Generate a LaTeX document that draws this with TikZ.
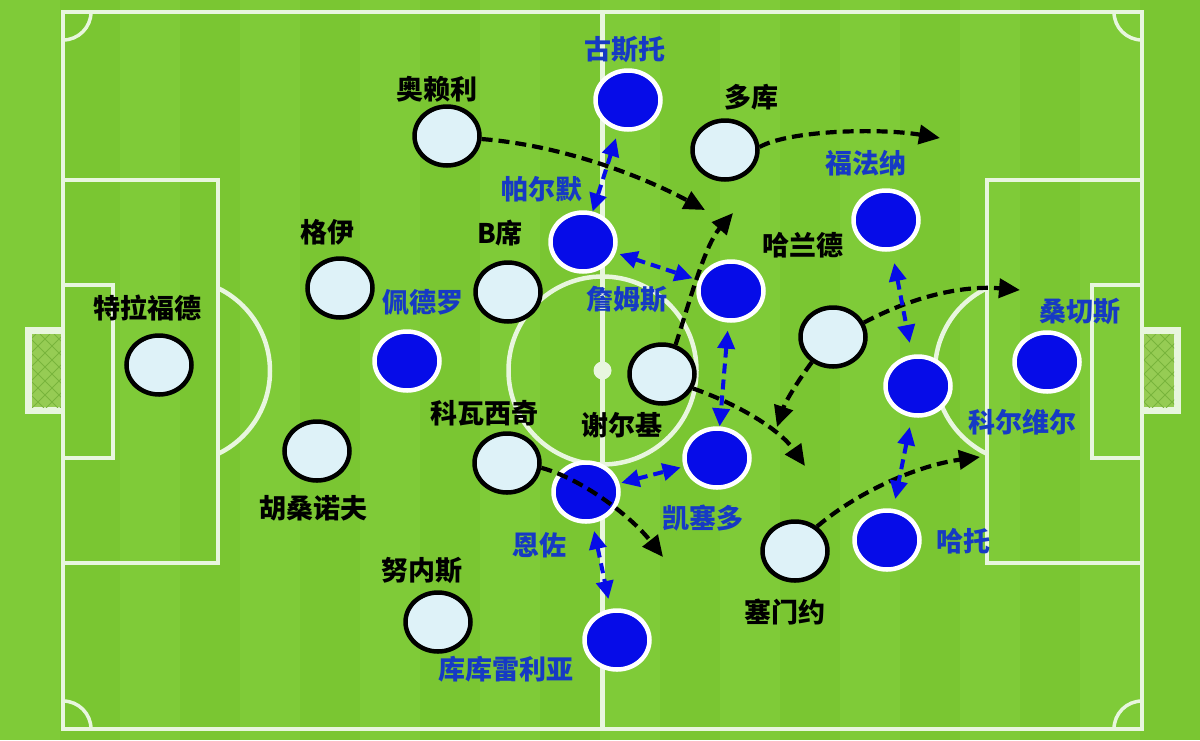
\documentclass[tikz,border=0pt]{standalone}
\usepackage{fontspec}
\newfontfamily\cjk{Noto Sans CJK SC}
\usetikzlibrary{arrows.meta, shapes.geometric, positioning}
\definecolor{pitchgreen}{RGB}{122,198,50}
\definecolor{stripegreen}{RGB}{127,203,56}
\definecolor{chalk}{RGB}{232,246,222}
\definecolor{netgreen}{RGB}{150,204,84}
\definecolor{netline}{RGB}{120,180,60}
\definecolor{homefill}{RGB}{222,242,248}
\definecolor{awayblue}{RGB}{6,12,232}
\definecolor{namesblue}{RGB}{22,58,196}

\begin{document}
\begin{tikzpicture}[
    x=1pt, y=-1pt,
    chalkline/.style={draw=chalk, line width=4.5pt},
    home/.style={ellipse, draw=black, fill=homefill, line width=4.5pt, minimum width=65pt, minimum height=59pt, inner sep=0pt},
    away/.style={ellipse, draw=white, fill=awayblue, line width=4.5pt, minimum width=65pt, minimum height=59pt, inner sep=0pt},
    homename/.style={font=\cjk\bfseries\fontsize{27pt}{30pt}\selectfont, text=black, inner sep=1pt},
    awayname/.style={font=\cjk\bfseries\fontsize{27pt}{30pt}\selectfont, text=namesblue, inner sep=1pt},
    run/.style={black, line width=4.2pt, dash pattern=on 11pt off 6pt, -{Triangle[length=21pt,width=19pt]}},
    duel/.style={awayblue, line width=4pt, dash pattern=on 10pt off 6pt, {Triangle[length=18pt,width=17pt]}-{Triangle[length=18pt,width=17pt]}}
  ]
  \useasboundingbox (0,0) rectangle (1200,740);

  % grass
  \fill[pitchgreen] (0,0) rectangle (1200,740);
  \foreach \x in {0,120,...,1080}
    \fill[stripegreen] (\x,0) rectangle ++(60,740);

  % goals
  \fill[chalk] (25,327) rectangle (63,414);
  \fill[chalk] (1142,327) rectangle (1181,414);
  \begin{scope}
    \clip (32,334) rectangle (61,407);
    \fill[netgreen] (32,334) rectangle (61,407);
    \foreach \k in {-100,-86,...,120}
      \draw[netline, line width=1pt] (\k,334) -- ++(80,80) (\k+80,334) -- ++(-80,80);
  \end{scope}
  \begin{scope}
    \clip (1144,334) rectangle (1174,407);
    \fill[netgreen] (1144,334) rectangle (1174,407);
    \foreach \k in {1020,1034,...,1240}
      \draw[netline, line width=1pt] (\k,334) -- ++(80,80) (\k+80,334) -- ++(-80,80);
  \end{scope}

  % pitch markings
  \draw[chalkline] (63,12) rectangle (1142,729);
  \draw[chalkline] (602.5,12) -- (602.5,729);
  \draw[chalkline] (602.5,370.5) circle (94);
  \fill[chalk] (602.5,370.5) circle (9);
  \draw[chalkline] (63,180) rectangle (218,563);
  \draw[chalkline] (63,285) rectangle (113,458);
  \draw[chalkline] (987,180) rectangle (1142,563);
  \draw[chalkline] (1092,285) rectangle (1142,458);
  \begin{scope}
    \clip (220,0) rectangle (985,740);
    \draw[chalkline] (178,371) circle (92);
    \draw[chalkline] (1027,371) circle (92);
  \end{scope}
  \begin{scope}
    \clip (63,12) rectangle (1142,729);
    \foreach \cx/\cy in {63/12, 1142/12, 63/729, 1142/729}
      \draw[chalkline, line width=3.5pt] (\cx,\cy) circle (28);
  \end{scope}

  % home side
  \node[home] (trafford) at (159,365) {};
  \node[home] (gue) at (340,288) {};
  \node[home] (khusanov) at (317,451) {};
  \node[home] (oreilly) at (447,136) {};
  \node[home] (bsilva) at (508,292) {};
  \node[home] (kovacic) at (507,463) {};
  \node[home] (nunes) at (438,622) {};
  \node[home] (cherki) at (662,374) {};
  \node[home] (doku) at (725,150) {};
  \node[home] (haaland) at (833,337) {};
  \node[home] (semenyo) at (795,551) {};

  \node[homename] (trafford-name) at (147,308) {特拉福德};
  \node[homename] (gue-name) at (327,232) {格伊};
  \node[homename] (khusanov-name) at (313,508) {胡桑诺夫};
  \node[homename] (oreilly-name) at (437,89) {奥赖利};
  \node[homename] (bsilva-name) at (500,233) {B席};
  \node[homename] (kovacic-name) at (484,413) {科瓦西奇};
  \node[homename] (nunes-name) at (422,570) {努内斯};
  \node[homename] (cherki-name) at (622,425) {谢尔基};
  \node[homename] (doku-name) at (751,97) {多库};
  \node[homename] (haaland-name) at (803,245) {哈兰德};
  \node[homename] (semenyo-name) at (785,612) {塞门约};

  % away side
  \node[away] (gusto) at (628,100) {};
  \node[away] (palmer) at (583,242) {};
  \node[away] (pedro) at (407,361) {};
  \node[away] (james) at (731,291) {};
  \node[away] (enzo) at (586,492) {};
  \node[away] (caicedo) at (717,458) {};
  \node[away] (cucurella) at (617,640) {};
  \node[away] (fofana) at (886,220) {};
  \node[away] (colwill) at (918,386) {};
  \node[away] (hato) at (887,540) {};
  \node[away] (sanchez) at (1047,362) {};

  \node[awayname] (gusto-name) at (625,49) {古斯托};
  \node[awayname] (palmer-name) at (542,189) {帕尔默};
  \node[awayname] (pedro-name) at (423,302) {佩德罗};
  \node[awayname] (james-name) at (627,299) {詹姆斯};
  \node[awayname] (enzo-name) at (539,545) {恩佐};
  \node[awayname] (caicedo-name) at (703,518) {凯塞多};
  \node[awayname] (cucurella-name) at (506,669) {库库雷利亚};
  \node[awayname] (fofana-name) at (866,163) {福法纳};
  \node[awayname] (colwill-name) at (1022,422) {科尔维尔};
  \node[awayname] (hato-name) at (963,541) {哈托};
  \node[awayname] (sanchez-name) at (1080,311) {桑切斯};

  % runs
  \coordinate (oreilly-to) at (705,210);
  \coordinate (doku-to) at (940,138);
  \coordinate (cherki-up) at (733,213);
  \coordinate (cherki-down) at (805,466);
  \coordinate (haaland-up) at (1020,290);
  \coordinate (haaland-down) at (777,427);
  \coordinate (kovacic-to) at (663,557);
  \coordinate (semenyo-to) at (980,457);

  \draw[run] (oreilly.-5) .. controls (560,145) and (640,175) .. (oreilly-to);
  \draw[run] (doku.5) .. controls (790,130) and (880,128) .. (doku-to);
  \draw[run] (cherki.65) .. controls (690,300) and (705,245) .. (cherki-up);
  \draw[run] (cherki.-25) .. controls (740,405) and (780,430) .. (cherki-down);
  \draw[run] (haaland.25) .. controls (910,298) and (960,285) .. (haaland-up);
  \draw[run] (haaland.-130) .. controls (800,378) and (786,400) .. (haaland-down);
  \draw[run] (kovacic.-8) .. controls (580,478) and (630,515) .. (kovacic-to);
  \draw[run] (semenyo.48) .. controls (860,490) and (920,465) .. (semenyo-to);

  % duels
  \draw[duel, shorten <=8pt] (gusto) -- (palmer);
  \draw[duel, shorten <=4pt, shorten >=6pt] (palmer) -- (james);
  \draw[duel, shorten <=8pt] (james) -- (caicedo);
  \draw[duel, shorten <=2pt, shorten >=3pt] (enzo) -- (caicedo);
  \draw[duel, shorten <=8pt, shorten >=10pt] (enzo) -- (cucurella);
  \draw[duel, shorten <=12pt, shorten >=12pt] (fofana) -- (colwill);
  \draw[duel, shorten <=10pt, shorten >=10pt] (colwill) -- (hato);
\end{tikzpicture}
\end{document}
